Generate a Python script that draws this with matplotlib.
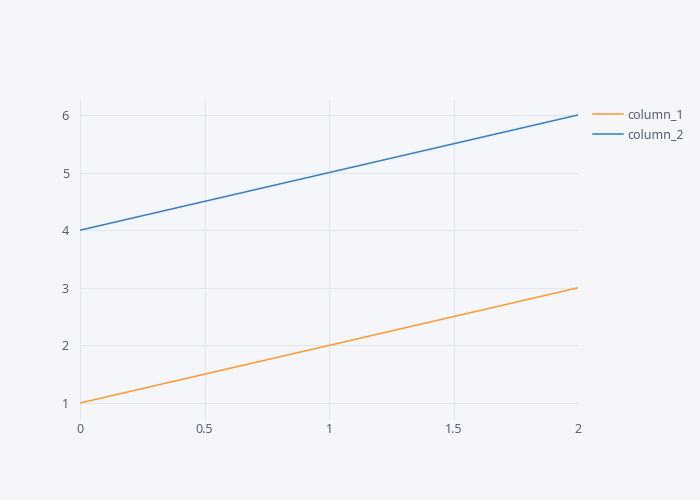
import matplotlib
matplotlib.use("Agg")
import matplotlib.pyplot as plt

x = [0, 1, 2]
column_1 = [1, 2, 3]
column_2 = [4, 5, 6]
names = ["column_1", "column_2"]
colors = ["#ff9933", "#3780bf"]

bg = "#f5f6f9"
grid = "#e1e5ed"
txt = "#4d5663"

plt.rcParams["font.family"] = ["Open Sans", "DejaVu Sans"]

fig = plt.figure(figsize=(7, 5), dpi=100, facecolor=bg)
ax = fig.add_axes([80 / 700, 80 / 500, 498 / 700, 320 / 500], facecolor=bg)

for ys, name, c in zip([column_1, column_2], names, colors):
    ax.plot(x, ys, color=c, lw=1.1, label=name)

ax.set_xlim(0, 2)
ax.set_ylim(0.705, 6.26)
ax.set_xticks([0, 0.5, 1, 1.5, 2])
ax.set_xticklabels(["0", "0.5", "1", "1.5", "2"])
ax.set_yticks([1, 2, 3, 4, 5, 6])
ax.grid(True, color=grid, lw=0.8)
ax.set_axisbelow(True)
for s in ax.spines.values():
    s.set_visible(False)
ax.tick_params(length=0, colors=txt, labelsize=9)
ax.tick_params(axis="x", pad=2)
ax.tick_params(axis="y", pad=8)

leg = ax.legend(loc="upper left", bbox_to_anchor=(593 / 700, 392 / 500),
                bbox_transform=fig.transFigure, frameon=False,
                fontsize=9, labelcolor=txt, handlelength=2.4, handletextpad=0.35,
                borderaxespad=0, borderpad=0, labelspacing=0.55)

fig.savefig("out.png", dpi=100, facecolor=bg)
